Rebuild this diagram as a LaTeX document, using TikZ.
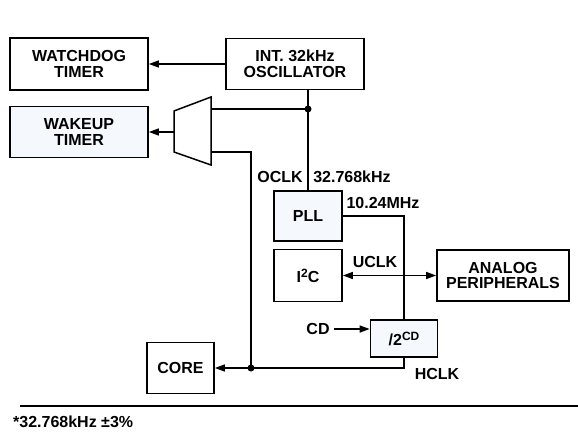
\documentclass[tikz,border=0pt]{standalone}
\usepackage{fontspec}
\setmainfont{Liberation Sans}
\usetikzlibrary{arrows.meta}
\definecolor{lightfill}{HTML}{F5F8FC}
\newcommand{\supx}[1]{\raisebox{5pt}{\fontsize{12}{12}\selectfont #1}}
\begin{document}
\begin{tikzpicture}[x=1pt,y=-1pt,
  every node/.style={font=\fontsize{16}{15.5}\selectfont\bfseries, inner sep=0pt},
  box/.style={draw, line width=1.7pt, align=center, fill=white},
  fbox/.style={box, fill=lightfill},
  conn/.style={line width=1.5pt},
  arr/.style={conn, -{Triangle[length=10pt,width=7pt]}},
  arrboth/.style={conn, {Triangle[length=10pt,width=7pt]}-{Triangle[length=10pt,width=7pt]}},
  dot/.style={circle, fill=black, minimum size=7pt, inner sep=0pt}]
\useasboundingbox (0,0) rectangle (578,433);
% boxes
\node[box, minimum width=138pt, minimum height=52pt] (wd) at (79,64) {WATCHDOG\\TIMER};
\node[box, minimum width=138pt, minimum height=51pt] (osc) at (295,64) {INT. 32kHz\\OSCILLATOR};
\node[fbox, minimum width=138pt, minimum height=51pt] (wake) at (79,132) {WAKEUP\\TIMER};
\node[fbox, minimum width=68pt, minimum height=50pt] (pll) at (308,216) {PLL};
\node[box, minimum width=68pt, minimum height=52pt] (i2c) at (308,275.5) {I\supx{2}C};
\node[box, minimum width=132pt, minimum height=51pt] (analog) at (503,275.5) {ANALOG\\PERIPHERALS};
\node[fbox, minimum width=67pt, minimum height=37pt] (div) at (404,338.5) {/2\supx{CD}};
\node[box, minimum width=67pt, minimum height=51pt] (core) at (180.5,368) {CORE};
% multiplexer
\coordinate (muxTL) at (174,111);
\coordinate (muxTR) at (211,97);
\coordinate (muxBR) at (211,165);
\coordinate (muxBL) at (174,152);
\coordinate (muxL) at (174,132);
\coordinate (muxT) at (211,109);
\coordinate (muxB) at (211,152);
\draw[line width=1.5pt, fill=white] (muxTL) -- (muxTR) -- (muxBR) -- (muxBL) -- cycle;
% junctions
\coordinate (j1) at (308,109);
\coordinate (j2) at (251,368);
% connectors
\draw[arr] (osc.west) -- (wd.east);
\draw[conn] (pll.north |- osc.south) -- (pll.north);
\draw[conn] (j1) -- (muxT);
\draw[arr] (muxL) -- (wake.east);
\draw[conn] (muxB) -| (j2);
\draw[conn] (pll.east) -| (div.north);
\draw[arr] (div.south) |- (core.east);
\draw[arrboth] (i2c.east) -- (analog.west);
\node (cd) at (318,329) {CD};
\draw[arr] (cd.east) ++(4,0) -- (cd -| div.west);
\node[dot] at (j1) {};
\node[dot] at (j2) {};
% labels
\node (oclk) at (280,177) {OCLK};
\node (f32) at (352,177) {32.768kHz};
\node (f10) at (383,203) {10.24MHz};
\node (uclk) at (375,262) {UCLK};
\node (hclk) at (437,374) {HCLK};
% footnote
\coordinate (ruleL) at (20,406);
\coordinate (ruleR) at (578,406);
\draw[line width=2pt] (ruleL) -- (ruleR);
\node[anchor=west] (note) at (13,422) {*32.768kHz ±3\%};
\end{tikzpicture}
\end{document}
